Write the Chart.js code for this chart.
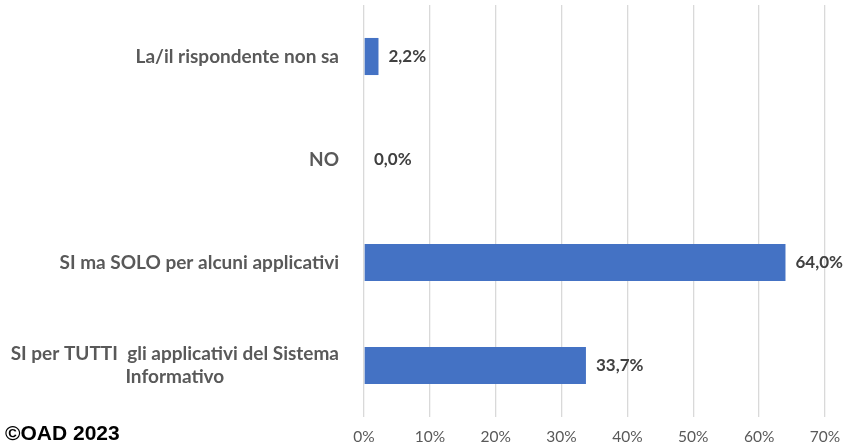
<!DOCTYPE html>
<html>
<head>
<meta charset="utf-8">
<script src="https://cdn.jsdelivr.net/npm/chart.js@4/dist/chart.umd.min.js"></script>
<style>
  html, body { margin: 0; padding: 0; background: #fff; }
  #wrap { width: 853px; height: 447px; position: relative; }
</style>
</head>
<body>
<div id="wrap"><canvas id="myChart"></canvas></div>
<script>
// risposte (dall'alto verso il basso)
const categories = [
    ['La/il rispondente non sa'],
    ['NO'],
    ['SI ma SOLO per alcuni applicativi'],
    ['SI per TUTTI  gli applicativi del Sistema', 'Informativo']
];
const values = [2.2, 0.0, 64.0, 33.7];
const xTicks = [0, 10, 20, 30, 40, 50, 60, 70];

const labelFont = '"Lato", "Open Sans", sans-serif';
const fmt = (v) => v.toFixed(1).replace('.', ',') + '%';

// etichette categoria: blocco allineato a destra, righe centrate fra loro
const categoryLabels = {
    id: 'categoryLabels',
    afterDraw(chart) {
        const c = chart.ctx;
        const y = chart.scales.y;
        const right = chart.chartArea.left - 25;
        c.save();
        c.font = 'bold 19px ' + labelFont;
        c.fillStyle = '#595959';
        c.textAlign = 'center';
        c.textBaseline = 'middle';
        const lineH = 23;
        categories.forEach((lines, i) => {
            const cy = y.getPixelForValue(i);
            const w = Math.max(...lines.map(l => c.measureText(l).width));
            const cx = right - w / 2;
            const top = cy - (lines.length - 1) * lineH / 2;
            lines.forEach((l, k) => c.fillText(l, cx, top + k * lineH));
        });
        c.restore();
    }
};

// valori a fianco delle barre
const valueLabels = {
    id: 'valueLabels',
    afterDatasetsDraw(chart) {
        const c = chart.ctx;
        const meta = chart.getDatasetMeta(0);
        c.save();
        c.font = 'bold 17px ' + labelFont;
        c.fillStyle = '#404040';
        c.textAlign = 'left';
        c.textBaseline = 'middle';
        meta.data.forEach((bar, i) => {
            c.fillText(fmt(values[i]), bar.x + 10, bar.y);
        });
        c.restore();
    }
};

const copyright = {
    id: 'copyright',
    afterDraw(chart) {
        const c = chart.ctx;
        c.save();
        c.font = 'bold 21px "Liberation Sans", Arial, sans-serif';
        c.fillStyle = '#000';
        c.textAlign = 'left';
        c.textBaseline = 'alphabetic';
        c.fillText('©OAD 2023', 5, 440);
        c.restore();
    }
};

const ctx = document.getElementById('myChart').getContext('2d');
const myChart = new Chart(ctx, {
    type: 'bar',
    data: {
        labels: categories,
        datasets: [{
            data: values,
            backgroundColor: '#4472C4',
            borderWidth: 0,
            barPercentage: 0.36,
            categoryPercentage: 1
        }]
    },
    options: {
        indexAxis: 'y',
        responsive: true,
        maintainAspectRatio: false,
        animation: false,
        layout: {
            padding: { top: 5, right: 28, bottom: 0, left: 0 }
        },
        plugins: {
            legend: false,
            tooltip: { enabled: false }
        },
        scales: {
            x: {
                min: 0,
                max: 70,
                afterBuildTicks(scale) {
                    scale.ticks = xTicks.map(v => ({ value: v }));
                },
                afterFit(scale) {
                    scale.height = 30;
                },
                ticks: {
                    callback: (v) => v + '%',
                    color: '#595959',
                    font: { family: labelFont, size: 15.5 },
                    padding: 11,
                    maxRotation: 0
                },
                grid: {
                    color: '#d9d9d9',
                    lineWidth: 1.3,
                    drawTicks: false
                },
                border: { display: false }
            },
            y: {
                ticks: { display: false },
                grid: { display: false },
                border: { display: false },
                afterFit(scale) {
                    scale.width = 364;
                }
            }
        }
    },
    plugins: [categoryLabels, valueLabels, copyright]
});
</script>
</body>
</html>
